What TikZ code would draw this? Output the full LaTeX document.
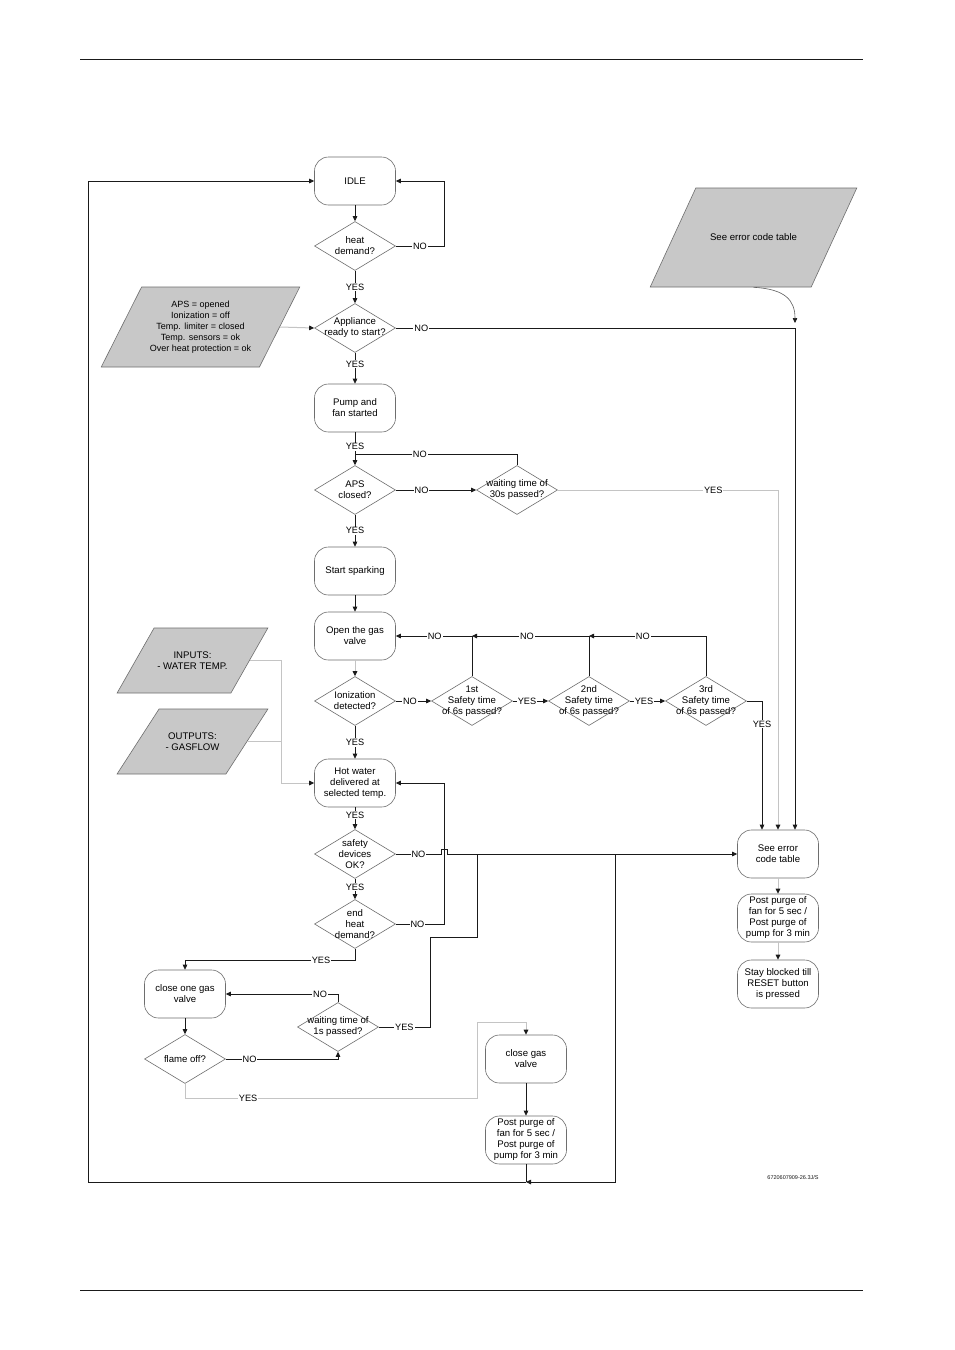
\documentclass[tikz,border=0pt]{standalone}
\usepackage{fontspec}
\setmainfont{Liberation Sans}
\usetikzlibrary{shapes.geometric,arrows.meta,calc}
\definecolor{ngray}{HTML}{6E6E6E}
\definecolor{fillgray}{HTML}{C8C8C8}
\definecolor{lgray}{HTML}{C4C4C4}
\definecolor{lblack}{HTML}{1A1A1A}
\tikzset{
 base/.style={font=\fontsize{9.6}{11}\selectfont, text=black},
 lblfont/.style={font=\fontsize{9.2}{11}\selectfont, text=black},
 proc/.style={base, draw=ngray, line width=0.6pt, rounded corners=14pt, minimum width=81pt, minimum height=48pt, inner sep=1pt, align=center},
 dec/.style={base, draw=ngray, line width=0.6pt, diamond, minimum width=81pt, minimum height=49pt, inner sep=-14pt, align=center},
 io/.style={base, draw=ngray, line width=0.6pt, fill=fillgray, trapezium, trapezium stretches=true, inner xsep=0pt, align=center},
 lbl/.style={lblfont, fill=white, inner sep=1pt},
 line/.style={draw=lblack, line width=0.8pt},
 arr/.style={line, -{Triangle[length=5pt,width=4.5pt]}},
 gline/.style={draw=lgray, line width=1pt},
 garr/.style={gline, -{Triangle[length=5pt,width=4.5pt,color=lblack]}},
}
\begin{document}
\begin{tikzpicture}[x=1pt,y=-1pt]
\useasboundingbox (0,0) rectangle (954,1350);
\fill[white] (0,0) rectangle (954,1350);
% page rules
\draw[lblack, line width=1pt] (80,59) -- (863,59);
\draw[lblack, line width=1pt] (80,1290) -- (863,1290);

% main column
\node[proc] (idle) at (355,181) {IDLE};
\node[dec] (heat) at (355,246) {heat\\demand?};
\node[dec] (app) at (355,328) {Appliance\\ready to start?};
\node[proc] (pump) at (355,408) {Pump and\\fan started};
\node[dec] (aps) at (355,490) {APS\\closed?};
\node[dec] (w30) at (517,490) {waiting time of\\30s passed?};
\node[proc] (spark) at (355,571) {Start sparking};
\node[proc] (opengas) at (355,636) {Open the gas\\valve};
\node[dec] (ion) at (355,701) {Ionization\\detected?};
\node[dec] (s1) at (472,701) {1st\\Safety time\\of 6s passed?};
\node[dec] (s2) at (589,701) {2nd\\Safety time\\of 6s passed?};
\node[dec] (s3) at (706,701) {3rd\\Safety time\\of 6s passed?};
\node[proc] (hot) at (355,783) {Hot water\\delivered at\\selected temp.};
\node[dec] (safety) at (355,854) {safety\\devices\\OK?};
\node[dec] (endheat) at (355,924) {end\\heat\\demand?};
\node[proc] (closeone) at (185,994) {close one gas\\valve};
\node[dec] (flame) at (185,1059) {flame off?};
\node[dec] (waitone) at (338,1027) {waiting time of\\1s passed?};
\node[proc] (closegas) at (526,1059) {close gas\\valve};
\node[proc] (pp1) at (526,1140) {Post purge of\\fan for 5 sec /\\Post purge of\\pump for 3 min};

% right column
\node[proc] (errtab) at (778,854) {See error\\code table};
\node[proc] (pp2) at (778,918) {Post purge of\\fan for 5 sec /\\Post purge of\\pump for 3 min};
\node[proc] (stay) at (778,984) {Stay blocked till\\RESET button\\is pressed};

% parallelograms
\node[io, font=\fontsize{9}{11}\selectfont, inner ysep=13.5pt, trapezium left angle=66.4, trapezium right angle=113.6, minimum width=199pt, minimum height=80pt] (apspar) at (200.5,327)
 {APS = opened\\Ionization = off\\Temp. limiter = closed\\Temp. sensors = ok\\Over heat protection = ok};
\node[io, inner ysep=45pt, trapezium left angle=70.5, trapezium right angle=109.5, minimum width=207pt, minimum height=99pt] (errpar) at (753.5,237.5)
 {See error code table};
\node[io, inner ysep=22.5pt, trapezium left angle=61.7, trapezium right angle=118.3, minimum width=151pt, minimum height=65pt] (inputs) at (192.5,660.5)
 {INPUTS:\\- WATER TEMP.};
\node[io, inner ysep=22.5pt, trapezium left angle=61.7, trapezium right angle=118.3, minimum width=151pt, minimum height=65pt] (outputs) at (192.5,741.5)
 {OUTPUTS:\\- GASFLOW};

\node[font=\fontsize{5.5}{6}\selectfont, text=lblack] (code) at (793,1178) {6720607909-26.3J/S};

% coordinates
\coordinate (j0) at (355,454);
\coordinate (j1) at (s1.north |- opengas.east);
\coordinate (j2) at (s2.north |- opengas.east);
\coordinate (jb) at (526,1182);
\coordinate (errin) at (795,323);
\coordinate (inj) at ([xshift=-33pt]hot.west);

% connectors main
\draw[arr] (idle.south) -- (heat.north);
\draw[arr] (heat.east) -- node[lbl]{NO} (444,246) |- (idle.east);
\draw[arr] (heat.south) -- node[lbl]{YES} (app.north);
\draw[arr] (app.east) -| node[lbl,pos=0.032]{NO} ([xshift=17pt]errtab.north);
\draw[arr] (app.south) -- node[lbl,pos=0.37]{YES} (pump.north);
\draw[arr] (pump.south) -- node[lbl,pos=0.44]{YES} (aps.north);
\draw[line] (w30.north) |- node[lbl,pos=0.8]{NO} (j0);
\draw[arr] (aps.east) -- node[lbl,pos=0.32]{NO} (w30.west);
\draw[garr] (w30.east) -| node[lbl,pos=0.353]{YES} (errtab.north);
\draw[arr] (aps.south) -- node[lbl]{YES} (spark.north);
\draw[arr] (spark.south) -- (opengas.north);
\draw[garr] (opengas.south) -- (ion.north);
\draw[arr] (ion.east) -- node[lbl,pos=0.4]{NO} (s1.west);
\draw[arr] (s1.east) -- node[lbl,pos=0.4]{YES} (s2.west);
\draw[arr] (s2.east) -- node[lbl,pos=0.4]{YES} (s3.west);
\draw[arr] (s1.north) |- node[lbl,pos=0.745]{NO} (opengas.east);
\draw[arr] (s2.north) |- node[lbl,pos=0.765]{NO} (j1);
\draw[arr] (s3.north) |- node[lbl,pos=0.77]{NO} (j2);
\draw[arr] (s3.east) -| node[lbl,pos=0.59]{YES} ([xshift=-16pt]errtab.north);
\draw[arr] (ion.south) -- node[lbl]{YES} (hot.north);
\draw[arr] (hot.south) -- node[lbl,pos=0.35]{YES} (safety.north);
\draw[arr] (safety.south) -- node[lbl,pos=0.4]{YES} (endheat.north);
\draw[arr] (endheat.east) -- node[lbl,pos=0.45]{NO} (444,924) |- (hot.east);
\draw[arr] (safety.east) -- node[lbl,pos=0.5]{NO} (441,854) -- (441,849) -- (447,849) -- (447,854) -- (errtab.west);
\draw[arr] (endheat.south) -- (355,960) -- node[lbl,pos=0.2]{YES} (185,960) -- (closeone.north);
\draw[arr] (closeone.south) -- (flame.north);
\draw[arr] (waitone.north) |- node[lbl,pos=0.58]{NO} (closeone.east);
\draw[arr] (flame.east) -| node[lbl,pos=0.106]{NO} (waitone.south);
\draw[line] (waitone.east) -- node[lbl]{YES} (430,1027) |- (477,937) -- (477,854);
\draw[garr] (flame.south) -- (185,1098) -- node[lbl,pos=0.216]{YES} (477,1098) -- (477,1022) -- (526,1022) -- (closegas.north);
\draw[arr] (closegas.south) -- (pp1.north);
\draw[line] (pp1.south) -- (jb);
\draw[arr] (615,854) |- (jb);
\draw[arr] (jb) -- (88,1182) |- (idle.west);

% right column connectors
\draw[garr] (errtab.south) -- (pp2.north);
\draw[garr] (pp2.south) -- (stay.north);
\draw[lblack!70, line width=0.6pt, -{Triangle[length=5pt,width=4.5pt,color=lblack]}] (errpar.south) .. controls (785,289) and (795,300) .. (errin);

% inputs
\draw[garr] (apspar.east) -- (app.west);
\draw[gline] (inputs.east) -| (inj);
\draw[gline] (outputs.east) -- (outputs.east -| inj);
\draw[garr] (inj) -- (hot.west);
\end{tikzpicture}
\end{document}
